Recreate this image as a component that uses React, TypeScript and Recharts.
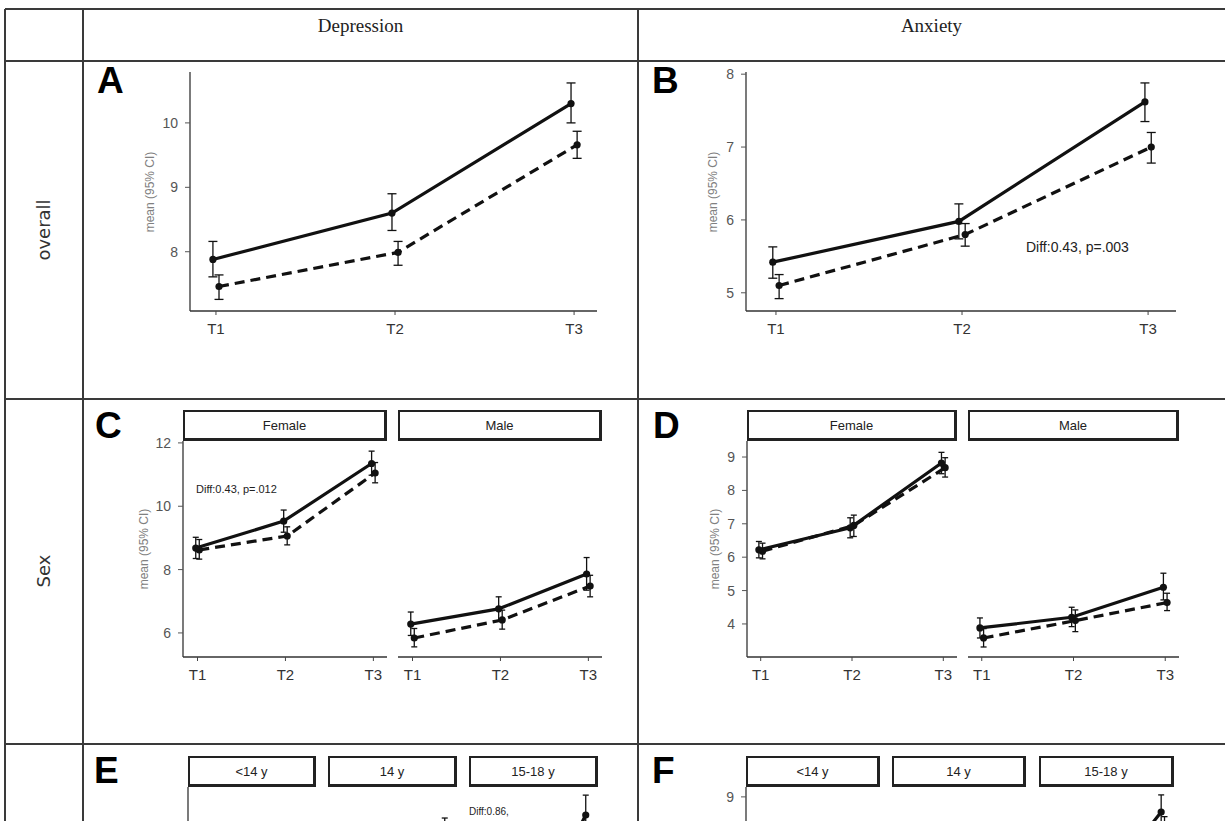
import React from 'react';
import { LineChart, Line, XAxis, YAxis, ErrorBar } from 'recharts';

// each series: [mean, lower CI, upper CI] at T1, T2, T3
const times = ['T1', 'T2', 'T3'];

const depOverallSolid = [[7.88, 7.61, 8.16], [8.6, 8.33, 8.9], [10.3, 10.0, 10.62]];
const depOverallDash = [[7.46, 7.26, 7.64], [7.99, 7.79, 8.16], [9.66, 9.45, 9.87]];
const anxOverallSolid = [[5.42, 5.2, 5.63], [5.98, 5.74, 6.22], [7.62, 7.35, 7.88]];
const anxOverallDash = [[5.1, 4.92, 5.25], [5.8, 5.64, 5.95], [7.0, 6.78, 7.2]];

const depFemaleSolid = [[8.68, 8.35, 9.02], [9.53, 9.18, 9.88], [11.35, 10.98, 11.74]];
const depFemaleDash = [[8.62, 8.33, 8.95], [9.06, 8.78, 9.35], [11.05, 10.74, 11.38]];
const depMaleSolid = [[6.28, 5.92, 6.66], [6.76, 6.38, 7.14], [7.86, 7.35, 8.38]];
const depMaleDash = [[5.84, 5.56, 6.14], [6.41, 6.12, 6.72], [7.48, 7.14, 7.82]];
const anxFemaleSolid = [[6.22, 5.98, 6.47], [6.88, 6.58, 7.18], [8.82, 8.5, 9.14]];
const anxFemaleDash = [[6.18, 5.95, 6.42], [6.95, 6.62, 7.26], [8.68, 8.4, 8.98]];
const anxMaleSolid = [[3.88, 3.58, 4.18], [4.2, 3.92, 4.5], [5.1, 4.72, 5.52]];
const anxMaleDash = [[3.58, 3.31, 3.86], [4.1, 3.77, 4.42], [4.64, 4.4, 4.92]];

// age panels are cut off by the page edge, only their tops show
const depU14Solid = [[8.1, 7.6, 8.6], [8.5, 8.0, 9.0], [9.3, 8.7, 9.9]];
const depU14Dash = [[7.6, 7.2, 8.0], [7.9, 7.5, 8.3], [8.9, 8.4, 9.4]];
const dep14Solid = [[8.3, 7.8, 8.8], [8.9, 8.3, 9.5], [11.5, 10.7, 12.27]];
const dep14Dash = [[8.0, 7.6, 8.4], [8.4, 8.0, 8.8], [10.8, 10.3, 11.3]];
const dep1518Solid = [[7.8, 7.2, 8.4], [8.9, 8.2, 9.6], [12.37, 11.7, 13.03]];
const dep1518Dash = [[7.4, 6.9, 7.9], [8.3, 7.8, 8.8], [11.5, 11.0, 12.0]];
const anxU14Solid = [[5.0, 4.6, 5.4], [5.6, 5.2, 6.0], [6.3, 5.8, 6.8]];
const anxU14Dash = [[4.8, 4.5, 5.1], [5.4, 5.1, 5.7], [6.0, 5.6, 6.4]];
const anx14Solid = [[5.3, 4.9, 5.7], [5.9, 5.5, 6.3], [7.1, 6.6, 7.6]];
const anx14Dash = [[5.1, 4.8, 5.4], [5.7, 5.4, 6.0], [6.8, 6.4, 7.2]];
const anx1518Solid = [[5.6, 5.2, 6.0], [6.4, 5.9, 6.9], [8.54, 8.02, 9.06]];
const anx1518Dash = [[5.4, 5.0, 5.8], [6.1, 5.7, 6.5], [8.0, 7.6, 8.4]];

const columnTitles = ['Depression', 'Anxiety'];
const rowTitles = ['overall', 'Sex'];
const sexFacets = ['Female', 'Male'];
const ageFacets = ['<14 y', '14 y', '15-18 y'];
const yTitle = 'mean (95% CI)';

const INK = '#111';
const GRID = '#3a3a3a';

const toRows = (s: number[][], shift: number) =>
  s.map(([m, lo, hi], i) => ({ x: i + 1 + shift, y: m, err: [m - lo, hi - m] }));

interface FacetProps {
  x0: number; x1: number; y0: number; y1: number;
  yDomain: number[]; yTicks: number[]; xDomain: number[];
  showY: boolean; solid: number[][]; dashed: number[][];
  dodge: number; cap: number; lw?: number; xLabels?: boolean;
}

function Facet({ x0, x1, y0, y1, yDomain, yTicks, xDomain, showY, solid, dashed, dodge, cap, lw = 3.2, xLabels = true }: FacetProps) {
  const yw = showY ? 50 : 0;
  const mt = 8, mr = 8, xh = 36;
  const left = x0 - yw;
  const top = y0 - mt;
  const width = x1 - left + mr;
  const height = y1 - top + xh;
  const hasYTicks = yTicks.length > 0;
  return (
    <div style={{ position: 'absolute', left, top }}>
      <LineChart width={width} height={height} margin={{ top: mt, right: mr, left: 0, bottom: 0 }}>
        <XAxis
          type="number" dataKey="x" domain={xDomain} ticks={[1, 2, 3]} allowDataOverflow
          tickFormatter={(v: number) => times[Math.round(v) - 1]}
          height={xh} interval={0} tickSize={4} tickMargin={8}
          tick={xLabels ? { fill: '#333', fontSize: 15 } : false}
          tickLine={xLabels ? { stroke: '#444' } : false} axisLine={{ stroke: '#333', strokeWidth: 1.3 }}
        />
        <YAxis
          type="number" domain={yDomain} ticks={hasYTicks ? yTicks : undefined} allowDataOverflow hide={!showY}
          width={yw} interval={0} tickSize={5} tickMargin={7}
          tick={hasYTicks ? { fill: '#555', fontSize: 14 } : false}
          tickLine={hasYTicks ? { stroke: '#555' } : false} axisLine={{ stroke: '#333', strokeWidth: 1.3 }}
        />
        <Line
          data={toRows(dashed, dodge)} dataKey="y" type="linear" stroke={INK} strokeWidth={lw}
          strokeDasharray="10 6" dot={{ r: 3.6, fill: INK, strokeWidth: 0 }} activeDot={false}
          isAnimationActive={false}
        >
          <ErrorBar dataKey="err" direction="y" width={cap} stroke={INK} strokeWidth={1.3} isAnimationActive={false} />
        </Line>
        <Line
          data={toRows(solid, -dodge)} dataKey="y" type="linear" stroke={INK} strokeWidth={lw}
          dot={{ r: 3.6, fill: INK, strokeWidth: 0 }} activeDot={false} isAnimationActive={false}
        >
          <ErrorBar dataKey="err" direction="y" width={cap} stroke={INK} strokeWidth={1.3} isAnimationActive={false} />
        </Line>
      </LineChart>
    </div>
  );
}

function Strip({ x0, x1, y0, y1, label }: { x0: number; x1: number; y0: number; y1: number; label: string }) {
  return (
    <div style={{
      position: 'absolute', left: x0, top: y0, width: x1 - x0, height: y1 - y0, boxSizing: 'border-box',
      border: '2px solid #222', borderRightWidth: 3, borderBottomWidth: 3, display: 'flex',
      alignItems: 'center', justifyContent: 'center', fontSize: 13, color: '#222', background: '#fff',
    }}>{label}</div>
  );
}

function Rotated({ cx, cy, text, size, color }: { cx: number; cy: number; text: string; size: number; color: string }) {
  return (
    <div style={{
      position: 'absolute', left: cx, top: cy, transform: 'translate(-50%, -50%) rotate(-90deg)',
      whiteSpace: 'nowrap', fontSize: size, color, lineHeight: 1,
    }}>{text}</div>
  );
}

function Letter({ x, y, ch }: { x: number; y: number; ch: string }) {
  return (
    <div style={{ position: 'absolute', left: x, top: y, fontSize: 37, fontWeight: 700, lineHeight: 1, color: '#000' }}>{ch}</div>
  );
}

function Note({ x, y, text, size }: { x: number; y: number; text: string; size: number }) {
  return (
    <div style={{ position: 'absolute', left: x, top: y, fontSize: size, color: '#222', lineHeight: 1, whiteSpace: 'nowrap' }}>{text}</div>
  );
}

export default function App() {
  const hLines = [9, 61, 399, 744];
  const vLines = [5, 83, 638];
  const serif = '"Liberation Serif", "Times New Roman", serif';
  return (
    <div style={{
      position: 'fixed', left: 0, top: 0, width: 1225, height: 821, overflow: 'hidden',
      background: '#fff', fontFamily: '"Liberation Sans", Arial, sans-serif',
    }}>
      {hLines.map((y) => (
        <div key={'h' + y} style={{ position: 'absolute', left: 5, top: y - 1, width: 1225, height: 1.6, background: GRID }} />
      ))}
      {vLines.map((x) => (
        <div key={'v' + x} style={{ position: 'absolute', left: x - 1, top: 9, width: 1.6, height: 830, background: GRID }} />
      ))}

      <div style={{ position: 'absolute', left: 83, width: 555, top: 15, textAlign: 'center', fontFamily: serif, fontSize: 19, color: '#222' }}>{columnTitles[0]}</div>
      <div style={{ position: 'absolute', left: 638, width: 587, top: 15, textAlign: 'center', fontFamily: serif, fontSize: 19, color: '#222' }}>{columnTitles[1]}</div>

      <div style={{ fontFamily: '"DejaVu Sans", sans-serif' }}>
        <Rotated cx={44} cy={230} text={rowTitles[0]} size={18} color="#333" />
        <Rotated cx={44} cy={571} text={rowTitles[1]} size={18} color="#333" />
      </div>

      <Letter x={97} y={62} ch="A" />
      <Letter x={652} y={62} ch="B" />
      <Letter x={95} y={407} ch="C" />
      <Letter x={653} y={407} ch="D" />
      <Letter x={94} y={752} ch="E" />
      <Letter x={652} y={752} ch="F" />

      <Rotated cx={150} cy={192} text={yTitle} size={12} color="#808080" />
      <Rotated cx={713} cy={192} text={yTitle} size={12} color="#808080" />
      <Rotated cx={144} cy={549} text={yTitle} size={12} color="#808080" />
      <Rotated cx={715} cy={549} text={yTitle} size={12} color="#808080" />

      {/* A, B: overall */}
      <Facet x0={190} x1={597} y0={72} y1={311} yDomain={[7.08, 10.79]} yTicks={[8, 9, 10]} xDomain={[0.855, 3.128]}
        showY solid={depOverallSolid} dashed={depOverallDash} dodge={0.017} cap={4.5} />
      <Facet x0={746} x1={1176} y0={72} y1={311} yDomain={[4.75, 8.03]} yTicks={[5, 6, 7, 8]} xDomain={[0.839, 3.15]}
        showY solid={anxOverallSolid} dashed={anxOverallDash} dodge={0.017} cap={4.5} />
      <Note x={1026} y={240} text="Diff:0.43, p=.003" size={14} />

      {/* C, D: by sex */}
      <Strip x0={183} x1={387} y0={410} y1={441} label={sexFacets[0]} />
      <Strip x0={398} x1={602} y0={410} y1={441} label={sexFacets[1]} />
      <Facet x0={183} x1={387} y0={441} y1={657} yDomain={[5.24, 12.06]} yTicks={[6, 8, 10, 12]} xDomain={[0.835, 3.155]}
        showY solid={depFemaleSolid} dashed={depFemaleDash} dodge={0.02} cap={3} />
      <Facet x0={398} x1={602} y0={441} y1={657} yDomain={[5.24, 12.06]} yTicks={[6, 8, 10, 12]} xDomain={[0.835, 3.155]}
        showY={false} solid={depMaleSolid} dashed={depMaleDash} dodge={0.02} cap={3} />
      <Note x={196} y={484} text="Diff:0.43, p=.012" size={11} />

      <Strip x0={747} x1={957} y0={410} y1={441} label={sexFacets[0]} />
      <Strip x0={968} x1={1179} y0={410} y1={441} label={sexFacets[1]} />
      <Facet x0={747} x1={957} y0={441} y1={657} yDomain={[3.01, 9.48]} yTicks={[4, 5, 6, 7, 8, 9]} xDomain={[0.85, 3.15]}
        showY solid={anxFemaleSolid} dashed={anxFemaleDash} dodge={0.02} cap={3} />
      <Facet x0={968} x1={1179} y0={441} y1={657} yDomain={[3.01, 9.48]} yTicks={[4, 5, 6, 7, 8, 9]} xDomain={[0.85, 3.15]}
        showY={false} solid={anxMaleSolid} dashed={anxMaleDash} dodge={0.02} cap={3} />

      {/* E, F: by age (only the top of these panels is on the page) */}
      <Strip x0={188} x1={316} y0={756} y1={787} label={ageFacets[0]} />
      <Strip x0={328} x1={457} y0={756} y1={787} label={ageFacets[1]} />
      <Strip x0={469} x1={598} y0={756} y1={787} label={ageFacets[2]} />
      <Facet x0={188} x1={316} y0={787} y1={1037} yDomain={[5, 13.3]} yTicks={[]} xDomain={[0.78, 3.2]}
        showY solid={depU14Solid} dashed={depU14Dash} dodge={0.03} cap={3} xLabels={false} />
      <Facet x0={328} x1={457} y0={787} y1={1037} yDomain={[5, 13.3]} yTicks={[]} xDomain={[0.78, 3.2]}
        showY={false} solid={dep14Solid} dashed={dep14Dash} dodge={0.03} cap={3} xLabels={false} />
      <Facet x0={469} x1={598} y0={787} y1={1037} yDomain={[5, 13.3]} yTicks={[]} xDomain={[0.78, 3.2]}
        showY={false} solid={dep1518Solid} dashed={dep1518Dash} dodge={0.03} cap={3} xLabels={false} />
      <Note x={469} y={807} text="Diff:0.86," size={10} />

      <Strip x0={746} x1={880} y0={756} y1={787} label={ageFacets[0]} />
      <Strip x0={892} x1={1026} y0={756} y1={787} label={ageFacets[1]} />
      <Strip x0={1039} x1={1174} y0={756} y1={787} label={ageFacets[2]} />
      <Facet x0={746} x1={880} y0={787} y1={978} yDomain={[3.5, 9.3]} yTicks={[9]} xDomain={[0.78, 3.2]}
        showY solid={anxU14Solid} dashed={anxU14Dash} dodge={0.03} cap={3} xLabels={false} />
      <Facet x0={892} x1={1026} y0={787} y1={978} yDomain={[3.5, 9.3]} yTicks={[9]} xDomain={[0.78, 3.2]}
        showY={false} solid={anx14Solid} dashed={anx14Dash} dodge={0.03} cap={3} xLabels={false} />
      <Facet x0={1039} x1={1174} y0={787} y1={978} yDomain={[3.5, 9.3]} yTicks={[9]} xDomain={[0.78, 3.2]}
        showY={false} solid={anx1518Solid} dashed={anx1518Dash} dodge={0.03} cap={3} xLabels={false} />
    </div>
  );
}
